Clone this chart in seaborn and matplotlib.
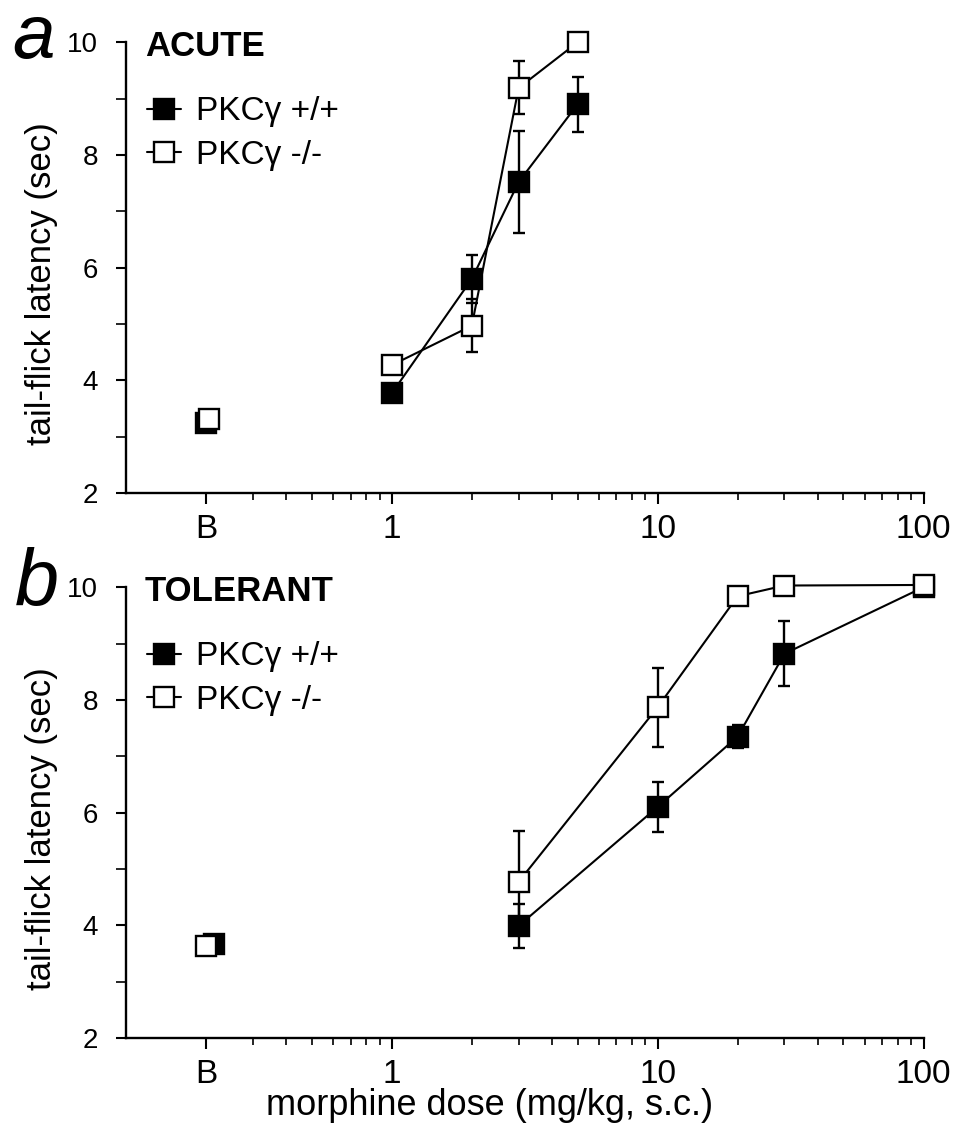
import numpy as np
import pandas as pd
import matplotlib
matplotlib.use("Agg")
import matplotlib.pyplot as plt
import seaborn as sns
from matplotlib.lines import Line2D
from matplotlib.ticker import FixedLocator, LogLocator, NullFormatter


# panel a (acute) - baseline "B" is plotted at dose 0.2
acute_dose_wt = [0.2, 1, 2, 3, 5]
acute_mean_wt = [3.25, 3.77, 5.80, 7.52, 8.90]
acute_sem_wt = [0.0, 0.0, 0.42, 0.90, 0.49]
acute_dose_ko = [0.206, 1, 2, 3, 5]
acute_mean_ko = [3.32, 4.27, 4.97, 9.19, 10.0]
acute_sem_ko = [0.0, 0.0, 0.47, 0.47, 0.0]

# panel b (tolerant)
tol_dose_wt = [0.215, 3, 10, 20, 30, 100]
tol_mean_wt = [3.67, 3.99, 6.10, 7.35, 8.82, 10.0]
tol_sem_wt = [0.0, 0.39, 0.45, 0.2, 0.58, 0.0]
tol_dose_ko = [0.2, 3, 10, 20, 30, 100]
tol_mean_ko = [3.63, 4.77, 7.87, 9.84, 10.03, 10.04]
tol_sem_ko = [0.0, 0.90, 0.70, 0.12, 0.0, 0.0]

x_ticks = [0.2, 1, 10, 100]
x_ticklabels = ["B", "1", "10", "100"]
y_ticks = [2, 4, 6, 8, 10]
groups = ["PKC\u03b3 +/+", "PKC\u03b3 -/-"]

sns.set_theme(style="ticks")
plt.rcParams["font.family"] = ["Liberation Sans", "DejaVu Sans"]
for key in ["text.color", "axes.labelcolor", "xtick.color", "ytick.color", "axes.edgecolor"]:
    plt.rcParams[key] = "black"

fig = plt.figure(figsize=(9.61, 11.44), dpi=100)
ax_a = fig.add_axes([0.131, 0.569, 0.830, 0.394])
ax_b = fig.add_axes([0.131, 0.0927, 0.830, 0.394])


def draw_series(ax, dose, mean, sem, face, z):
    df = pd.DataFrame({"dose": dose, "latency": mean, "sem": sem})
    base = df.iloc[:1]
    curve = df.iloc[1:]
    style = dict(marker="s", markersize=14, markerfacecolor=face,
                 markeredgecolor="black", markeredgewidth=1.7, clip_on=False)
    ax.errorbar(curve["dose"], curve["latency"], yerr=curve["sem"], fmt="none",
                ecolor="black", elinewidth=1.7, capsize=4, capthick=1.7,
                zorder=z, clip_on=False)
    sns.lineplot(data=curve, x="dose", y="latency", ax=ax, color="black",
                 linewidth=1.5, zorder=z + 0.5, **style)
    ax.plot(base["dose"], base["latency"], linestyle="none", zorder=z + 0.5, **style)


def style_panel(ax, title):
    ax.set_xscale("log")
    ax.set_xlim(0.1, 100)
    ax.set_ylim(2, 10)
    sns.despine(ax=ax)
    for s in ["left", "bottom"]:
        ax.spines[s].set_linewidth(1.7)
    ax.xaxis.set_major_locator(FixedLocator(x_ticks))
    ax.set_xticklabels(x_ticklabels)
    ax.xaxis.set_minor_locator(LogLocator(base=10, subs=np.arange(2, 10)))
    ax.xaxis.set_minor_formatter(NullFormatter())
    ax.set_yticks(y_ticks)
    ax.set_yticks([3, 5, 7, 9], minor=True)
    ax.tick_params(axis="x", which="major", direction="out", length=8, width=1.5,
                   labelsize=24, pad=7)
    ax.tick_params(axis="x", which="minor", direction="out", length=5, width=1.2)
    ax.tick_params(axis="y", which="major", direction="out", length=7, width=1.5,
                   labelsize=20, pad=13)
    ax.tick_params(axis="y", which="minor", direction="out", length=7, width=1.2)
    ax.set_ylabel("tail-flick latency (sec)", fontsize=25)
    ax.yaxis.set_label_coords(-0.085, 0.465)
    ax.set_xlabel("")
    ax.text(0.024, 0.99, title, transform=ax.transAxes, fontsize=25,
            fontweight="bold", va="center", ha="left")
    handles = [
        Line2D([], [], color="black", lw=1.5, marker="s", markersize=14,
               markerfacecolor="black", markeredgecolor="black", markeredgewidth=1.7),
        Line2D([], [], color="black", lw=1.5, marker="s", markersize=14,
               markerfacecolor="white", markeredgecolor="black", markeredgewidth=1.7),
    ]
    ax.legend(handles, groups, loc="upper left", bbox_to_anchor=(0.027, 0.88),
              frameon=False, fontsize=24, handlelength=1.0, handletextpad=0.45,
              labelspacing=0.37, borderpad=0, borderaxespad=0)


draw_series(ax_a, acute_dose_wt, acute_mean_wt, acute_sem_wt, "black", 3)
draw_series(ax_a, acute_dose_ko, acute_mean_ko, acute_sem_ko, "white", 4)
style_panel(ax_a, "ACUTE")

draw_series(ax_b, tol_dose_wt, tol_mean_wt, tol_sem_wt, "black", 3)
draw_series(ax_b, tol_dose_ko, tol_mean_ko, tol_sem_ko, "white", 4)
style_panel(ax_b, "TOLERANT")
ax_b.set_xlabel("morphine dose (mg/kg, s.c.)", fontsize=26)
ax_b.xaxis.set_label_coords(0.456, -0.112)

# panel letters
fig.text(0.013, 0.949, "a", fontsize=55, style="italic", va="baseline")
fig.text(0.015, 0.471, "b", fontsize=57, style="italic", va="baseline")

fig.savefig("out.png", dpi=100)
